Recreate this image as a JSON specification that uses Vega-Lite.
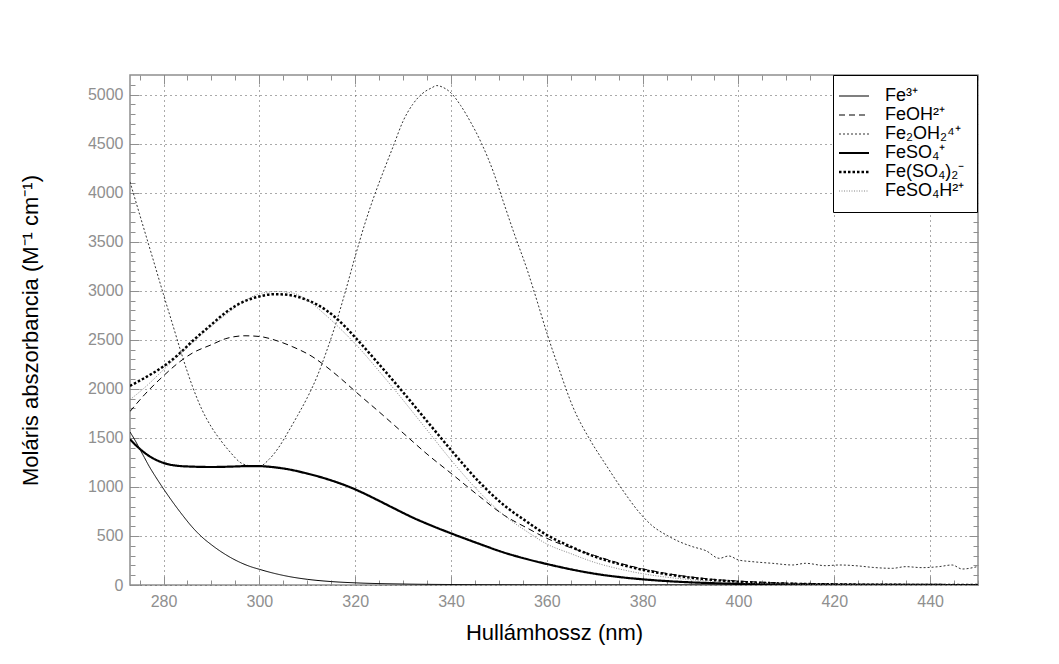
{
  "$schema": "https://vega.github.io/schema/vega-lite/v6.json",
  "width": 848,
  "height": 510,
  "autosize": {"type": "none"},
  "padding": {"left": 130, "top": 75, "right": 81, "bottom": 79},
  "background": "#ffffff",
  "config": {
    "view": {"stroke": "#8f8f8f", "strokeWidth": 1.5},
    "font": "Liberation Sans"
  },
  "data": {"name": "spectra"},
  "datasets": {
    "spectra": [
      {"s":"Fe³⁺","x":273,"y":1560},{"s":"Fe³⁺","x":274,"y":1480},{"s":"Fe³⁺","x":275,"y":1390},{"s":"Fe³⁺","x":276,"y":1300},{"s":"Fe³⁺","x":277,"y":1210},{"s":"Fe³⁺","x":278,"y":1130},{"s":"Fe³⁺","x":280,"y":980},{"s":"Fe³⁺","x":282,"y":840},{"s":"Fe³⁺","x":284,"y":710},{"s":"Fe³⁺","x":286,"y":590},{"s":"Fe³⁺","x":288,"y":490},{"s":"Fe³⁺","x":290,"y":410},{"s":"Fe³⁺","x":292,"y":340},{"s":"Fe³⁺","x":294,"y":280},{"s":"Fe³⁺","x":296,"y":230},{"s":"Fe³⁺","x":298,"y":190},{"s":"Fe³⁺","x":300,"y":160},{"s":"Fe³⁺","x":303,"y":120},{"s":"Fe³⁺","x":306,"y":88},{"s":"Fe³⁺","x":310,"y":58},{"s":"Fe³⁺","x":315,"y":35},{"s":"Fe³⁺","x":320,"y":22},{"s":"Fe³⁺","x":330,"y":10},{"s":"Fe³⁺","x":340,"y":5},{"s":"Fe³⁺","x":360,"y":2},{"s":"Fe³⁺","x":380,"y":1},{"s":"Fe³⁺","x":450,"y":0},

      {"s":"FeOH²⁺","x":273,"y":1769},{"s":"FeOH²⁺","x":276,"y":1939},{"s":"FeOH²⁺","x":280,"y":2133},{"s":"FeOH²⁺","x":283,"y":2262},{"s":"FeOH²⁺","x":286,"y":2364},{"s":"FeOH²⁺","x":290,"y":2450},{"s":"FeOH²⁺","x":293,"y":2512},{"s":"FeOH²⁺","x":297,"y":2541},{"s":"FeOH²⁺","x":300,"y":2534},{"s":"FeOH²⁺","x":304,"y":2485},{"s":"FeOH²⁺","x":307,"y":2428},{"s":"FeOH²⁺","x":311,"y":2330},{"s":"FeOH²⁺","x":314,"y":2225},{"s":"FeOH²⁺","x":317,"y":2105},{"s":"FeOH²⁺","x":320,"y":1975},{"s":"FeOH²⁺","x":325,"y":1765},{"s":"FeOH²⁺","x":330,"y":1550},{"s":"FeOH²⁺","x":335,"y":1335},{"s":"FeOH²⁺","x":340,"y":1139},{"s":"FeOH²⁺","x":346,"y":901},{"s":"FeOH²⁺","x":351,"y":714},{"s":"FeOH²⁺","x":356,"y":578},{"s":"FeOH²⁺","x":360,"y":476},{"s":"FeOH²⁺","x":365,"y":380},{"s":"FeOH²⁺","x":370,"y":300},{"s":"FeOH²⁺","x":375,"y":225},{"s":"FeOH²⁺","x":380,"y":165},{"s":"FeOH²⁺","x":385,"y":118},{"s":"FeOH²⁺","x":390,"y":82},{"s":"FeOH²⁺","x":395,"y":57},{"s":"FeOH²⁺","x":400,"y":40},{"s":"FeOH²⁺","x":405,"y":28},{"s":"FeOH²⁺","x":410,"y":20},{"s":"FeOH²⁺","x":420,"y":10},{"s":"FeOH²⁺","x":430,"y":5},{"s":"FeOH²⁺","x":450,"y":2},

      {"s":"Fe₂OH₂⁴⁺","x":273,"y":4110},{"s":"Fe₂OH₂⁴⁺","x":275,"y":3780},{"s":"Fe₂OH₂⁴⁺","x":278,"y":3290},{"s":"Fe₂OH₂⁴⁺","x":280,"y":2960},{"s":"Fe₂OH₂⁴⁺","x":282,"y":2640},{"s":"Fe₂OH₂⁴⁺","x":284,"y":2320},{"s":"Fe₂OH₂⁴⁺","x":286,"y":2030},{"s":"Fe₂OH₂⁴⁺","x":288,"y":1790},{"s":"Fe₂OH₂⁴⁺","x":290,"y":1610},{"s":"Fe₂OH₂⁴⁺","x":292,"y":1470},{"s":"Fe₂OH₂⁴⁺","x":294,"y":1350},{"s":"Fe₂OH₂⁴⁺","x":296,"y":1250},{"s":"Fe₂OH₂⁴⁺","x":297.5,"y":1220},{"s":"Fe₂OH₂⁴⁺","x":300,"y":1210},{"s":"Fe₂OH₂⁴⁺","x":302,"y":1280},{"s":"Fe₂OH₂⁴⁺","x":304,"y":1400},{"s":"Fe₂OH₂⁴⁺","x":306,"y":1560},{"s":"Fe₂OH₂⁴⁺","x":308,"y":1730},{"s":"Fe₂OH₂⁴⁺","x":310,"y":1910},{"s":"Fe₂OH₂⁴⁺","x":312,"y":2120},{"s":"Fe₂OH₂⁴⁺","x":314,"y":2380},{"s":"Fe₂OH₂⁴⁺","x":316,"y":2670},{"s":"Fe₂OH₂⁴⁺","x":318,"y":3000},{"s":"Fe₂OH₂⁴⁺","x":320,"y":3350},{"s":"Fe₂OH₂⁴⁺","x":322,"y":3680},{"s":"Fe₂OH₂⁴⁺","x":324,"y":3970},{"s":"Fe₂OH₂⁴⁺","x":326,"y":4230},{"s":"Fe₂OH₂⁴⁺","x":328,"y":4480},{"s":"Fe₂OH₂⁴⁺","x":330,"y":4730},{"s":"Fe₂OH₂⁴⁺","x":332,"y":4900},{"s":"Fe₂OH₂⁴⁺","x":334,"y":5010},{"s":"Fe₂OH₂⁴⁺","x":336,"y":5070},{"s":"Fe₂OH₂⁴⁺","x":337,"y":5092},{"s":"Fe₂OH₂⁴⁺","x":338.5,"y":5070},{"s":"Fe₂OH₂⁴⁺","x":340,"y":5017},{"s":"Fe₂OH₂⁴⁺","x":342,"y":4890},{"s":"Fe₂OH₂⁴⁺","x":344,"y":4728},{"s":"Fe₂OH₂⁴⁺","x":346.4,"y":4500},{"s":"Fe₂OH₂⁴⁺","x":348.8,"y":4218},{"s":"Fe₂OH₂⁴⁺","x":350.9,"y":3912},{"s":"Fe₂OH₂⁴⁺","x":353,"y":3610},{"s":"Fe₂OH₂⁴⁺","x":356,"y":3200},{"s":"Fe₂OH₂⁴⁺","x":358,"y":2890},{"s":"Fe₂OH₂⁴⁺","x":360,"y":2570},{"s":"Fe₂OH₂⁴⁺","x":362.6,"y":2196},{"s":"Fe₂OH₂⁴⁺","x":365.4,"y":1821},{"s":"Fe₂OH₂⁴⁺","x":368.9,"y":1490},{"s":"Fe₂OH₂⁴⁺","x":372.4,"y":1220},{"s":"Fe₂OH₂⁴⁺","x":375.8,"y":970},{"s":"Fe₂OH₂⁴⁺","x":379.3,"y":740},{"s":"Fe₂OH₂⁴⁺","x":382.1,"y":600},{"s":"Fe₂OH₂⁴⁺","x":384.9,"y":511},{"s":"Fe₂OH₂⁴⁺","x":387.6,"y":443},{"s":"Fe₂OH₂⁴⁺","x":390.4,"y":391},{"s":"Fe₂OH₂⁴⁺","x":393.2,"y":350},{"s":"Fe₂OH₂⁴⁺","x":396,"y":272},{"s":"Fe₂OH₂⁴⁺","x":398,"y":296},{"s":"Fe₂OH₂⁴⁺","x":400,"y":255},{"s":"Fe₂OH₂⁴⁺","x":402.9,"y":238},{"s":"Fe₂OH₂⁴⁺","x":407.1,"y":221},{"s":"Fe₂OH₂⁴⁺","x":411.3,"y":204},{"s":"Fe₂OH₂⁴⁺","x":414,"y":221},{"s":"Fe₂OH₂⁴⁺","x":418.2,"y":197},{"s":"Fe₂OH₂⁴⁺","x":421,"y":204},{"s":"Fe₂OH₂⁴⁺","x":425.1,"y":194},{"s":"Fe₂OH₂⁴⁺","x":427.9,"y":180},{"s":"Fe₂OH₂⁴⁺","x":432.1,"y":170},{"s":"Fe₂OH₂⁴⁺","x":434.9,"y":187},{"s":"Fe₂OH₂⁴⁺","x":438.3,"y":177},{"s":"Fe₂OH₂⁴⁺","x":441.8,"y":187},{"s":"Fe₂OH₂⁴⁺","x":444.6,"y":204},{"s":"Fe₂OH₂⁴⁺","x":446.7,"y":163},{"s":"Fe₂OH₂⁴⁺","x":449.8,"y":187},

      {"s":"FeSO₄⁺","x":273,"y":1485},{"s":"FeSO₄⁺","x":275,"y":1390},{"s":"FeSO₄⁺","x":277,"y":1315},{"s":"FeSO₄⁺","x":280,"y":1245},{"s":"FeSO₄⁺","x":283,"y":1215},{"s":"FeSO₄⁺","x":286,"y":1207},{"s":"FeSO₄⁺","x":290,"y":1203},{"s":"FeSO₄⁺","x":294,"y":1207},{"s":"FeSO₄⁺","x":298,"y":1213},{"s":"FeSO₄⁺","x":300,"y":1212},{"s":"FeSO₄⁺","x":302,"y":1206},{"s":"FeSO₄⁺","x":304,"y":1195},{"s":"FeSO₄⁺","x":306,"y":1180},{"s":"FeSO₄⁺","x":308,"y":1160},{"s":"FeSO₄⁺","x":310,"y":1136},{"s":"FeSO₄⁺","x":313,"y":1097},{"s":"FeSO₄⁺","x":316,"y":1050},{"s":"FeSO₄⁺","x":318,"y":1015},{"s":"FeSO₄⁺","x":320,"y":975},{"s":"FeSO₄⁺","x":322,"y":930},{"s":"FeSO₄⁺","x":325,"y":858},{"s":"FeSO₄⁺","x":328,"y":784},{"s":"FeSO₄⁺","x":332,"y":688},{"s":"FeSO₄⁺","x":336,"y":604},{"s":"FeSO₄⁺","x":340,"y":527},{"s":"FeSO₄⁺","x":346,"y":418},{"s":"FeSO₄⁺","x":351,"y":332},{"s":"FeSO₄⁺","x":356,"y":262},{"s":"FeSO₄⁺","x":360,"y":214},{"s":"FeSO₄⁺","x":365,"y":160},{"s":"FeSO₄⁺","x":370,"y":115},{"s":"FeSO₄⁺","x":375,"y":82},{"s":"FeSO₄⁺","x":380,"y":58},{"s":"FeSO₄⁺","x":385,"y":40},{"s":"FeSO₄⁺","x":390,"y":27},{"s":"FeSO₄⁺","x":395,"y":18},{"s":"FeSO₄⁺","x":400,"y":11},{"s":"FeSO₄⁺","x":410,"y":5},{"s":"FeSO₄⁺","x":420,"y":2},{"s":"FeSO₄⁺","x":450,"y":0},

      {"s":"Fe(SO₄)₂⁻","x":273,"y":2030},{"s":"Fe(SO₄)₂⁻","x":276,"y":2110},{"s":"Fe(SO₄)₂⁻","x":280,"y":2230},{"s":"Fe(SO₄)₂⁻","x":283,"y":2345},{"s":"Fe(SO₄)₂⁻","x":286,"y":2485},{"s":"Fe(SO₄)₂⁻","x":290,"y":2655},{"s":"Fe(SO₄)₂⁻","x":293,"y":2780},{"s":"Fe(SO₄)₂⁻","x":297,"y":2895},{"s":"Fe(SO₄)₂⁻","x":300,"y":2942},{"s":"Fe(SO₄)₂⁻","x":303,"y":2965},{"s":"Fe(SO₄)₂⁻","x":305,"y":2962},{"s":"Fe(SO₄)₂⁻","x":307,"y":2950},{"s":"Fe(SO₄)₂⁻","x":310,"y":2905},{"s":"Fe(SO₄)₂⁻","x":314,"y":2800},{"s":"Fe(SO₄)₂⁻","x":318,"y":2630},{"s":"Fe(SO₄)₂⁻","x":320,"y":2525},{"s":"Fe(SO₄)₂⁻","x":325,"y":2250},{"s":"Fe(SO₄)₂⁻","x":330,"y":1965},{"s":"Fe(SO₄)₂⁻","x":335,"y":1670},{"s":"Fe(SO₄)₂⁻","x":340,"y":1377},{"s":"Fe(SO₄)₂⁻","x":346,"y":1045},{"s":"Fe(SO₄)₂⁻","x":351,"y":816},{"s":"Fe(SO₄)₂⁻","x":356,"y":640},{"s":"Fe(SO₄)₂⁻","x":360,"y":510},{"s":"Fe(SO₄)₂⁻","x":365,"y":391},{"s":"Fe(SO₄)₂⁻","x":370,"y":290},{"s":"Fe(SO₄)₂⁻","x":375,"y":215},{"s":"Fe(SO₄)₂⁻","x":380,"y":155},{"s":"Fe(SO₄)₂⁻","x":385,"y":110},{"s":"Fe(SO₄)₂⁻","x":390,"y":75},{"s":"Fe(SO₄)₂⁻","x":395,"y":50},{"s":"Fe(SO₄)₂⁻","x":400,"y":33},{"s":"Fe(SO₄)₂⁻","x":405,"y":22},{"s":"Fe(SO₄)₂⁻","x":410,"y":14},{"s":"Fe(SO₄)₂⁻","x":420,"y":6},{"s":"Fe(SO₄)₂⁻","x":430,"y":2},{"s":"Fe(SO₄)₂⁻","x":450,"y":0},

      {"s":"FeSO₄H²⁺","x":273,"y":1890},{"s":"FeSO₄H²⁺","x":276,"y":2010},{"s":"FeSO₄H²⁺","x":280,"y":2195},{"s":"FeSO₄H²⁺","x":283,"y":2335},{"s":"FeSO₄H²⁺","x":286.4,"y":2485},{"s":"FeSO₄H²⁺","x":290,"y":2640},{"s":"FeSO₄H²⁺","x":293.4,"y":2772},{"s":"FeSO₄H²⁺","x":297,"y":2900},{"s":"FeSO₄H²⁺","x":300,"y":2969},{"s":"FeSO₄H²⁺","x":303.7,"y":2993},{"s":"FeSO₄H²⁺","x":307,"y":2976},{"s":"FeSO₄H²⁺","x":310,"y":2905},{"s":"FeSO₄H²⁺","x":314,"y":2745},{"s":"FeSO₄H²⁺","x":318,"y":2560},{"s":"FeSO₄H²⁺","x":320,"y":2460},{"s":"FeSO₄H²⁺","x":325,"y":2180},{"s":"FeSO₄H²⁺","x":330,"y":1885},{"s":"FeSO₄H²⁺","x":335,"y":1580},{"s":"FeSO₄H²⁺","x":340,"y":1275},{"s":"FeSO₄H²⁺","x":345,"y":995},{"s":"FeSO₄H²⁺","x":351,"y":714},{"s":"FeSO₄H²⁺","x":356,"y":540},{"s":"FeSO₄H²⁺","x":360,"y":418},{"s":"FeSO₄H²⁺","x":365,"y":320},{"s":"FeSO₄H²⁺","x":370,"y":230},{"s":"FeSO₄H²⁺","x":375,"y":165},{"s":"FeSO₄H²⁺","x":380,"y":115},{"s":"FeSO₄H²⁺","x":385,"y":80},{"s":"FeSO₄H²⁺","x":390,"y":55},{"s":"FeSO₄H²⁺","x":395,"y":36},{"s":"FeSO₄H²⁺","x":400,"y":24},{"s":"FeSO₄H²⁺","x":410,"y":10},{"s":"FeSO₄H²⁺","x":420,"y":4},{"s":"FeSO₄H²⁺","x":450,"y":0}
    ]
  },
  "resolve": {"axis": {"x": "independent", "y": "independent"}},
  "layer": [
    {
      "mark": {"type": "line", "interpolate": "monotone", "clip": true},
      "encoding": {
        "x": {
          "field": "x", "type": "quantitative",
          "scale": {"domain": [273, 450], "nice": false, "zero": false},
          "axis": {
            "orient": "bottom",
            "values": [280,300,320,340,360,380,400,420,440],
            "title": "Hullámhossz (nm)",
            "titleFont": "Liberation Sans", "titleFontSize": 22, "titleFontWeight": "normal", "titleColor": "#000000", "titlePadding": 13,
            "labelFont": "Liberation Sans", "labelFontSize": 16, "labelColor": "#8f8f8f", "labelOverlap": false, "labelFlush": false, "labelPadding": 8,
            "domain": false, "ticks": false,
            "grid": true, "gridColor": "#555555", "gridDash": [1, 4], "gridWidth": 1
          }
        },
        "y": {
          "field": "y", "type": "quantitative",
          "scale": {"domain": [0, 5200], "nice": false},
          "axis": {
            "orient": "left",
            "values": [0,500,1000,1500,2000,2500,3000,3500,4000,4500,5000],
            "title": "Moláris abszorbancia (M⁻¹ cm⁻¹)",
            "titleFont": "Liberation Sans", "titleFontSize": 22, "titleFontWeight": "normal", "titleColor": "#000000", "titlePadding": 45,
            "format": "d",
            "labelFont": "Liberation Sans", "labelFontSize": 16, "labelColor": "#8f8f8f", "labelOverlap": false, "labelFlush": false, "labelPadding": 7,
            "domain": false, "ticks": false,
            "grid": true, "gridColor": "#555555", "gridDash": [1, 4], "gridWidth": 1
          }
        },
        "color": {
          "field": "s", "type": "nominal",
          "scale": {"domain": ["Fe³⁺","FeOH²⁺","Fe₂OH₂⁴⁺","FeSO₄⁺","Fe(SO₄)₂⁻","FeSO₄H²⁺"], "range": ["#000000","#000000","#333333","#000000","#000000","#666666"]},
          "legend": {"orient": "none", "legendX": 703, "legendY": 0, "title": null, "symbolType": "M-1.5,0H1.5", "symbolSize": 400, "symbolOpacity": 1, "labelFont": "Liberation Sans", "labelFontSize": 18, "labelColor": "#000000", "strokeColor": "#000000", "fillColor": "#ffffff", "padding": 12, "rowPadding": 1, "labelOffset": 22,
            "encode": {"symbols": {"update": {"opacity": {"value": 1}, "strokeWidth": {"signal": "datum.value === 'FeSO₄⁺' ? 2.2 : datum.value === 'Fe(SO₄)₂⁻' ? 2.5 : datum.value === 'FeSO₄H²⁺' ? 0.8 : 1.2"}}}}}
        },
        "strokeDash": {
          "field": "s", "type": "nominal",
          "scale": {"domain": ["Fe³⁺","FeOH²⁺","Fe₂OH₂⁴⁺","FeSO₄⁺","Fe(SO₄)₂⁻","FeSO₄H²⁺"], "range": [[1,0],[6,4],[2,2],[1,0],[2.5,2],[1,1.5]]},
          "legend": {"orient": "none", "legendX": 703, "legendY": 0, "title": null, "symbolType": "M-1.5,0H1.5", "symbolSize": 400, "symbolOpacity": 1, "labelFont": "Liberation Sans", "labelFontSize": 18, "labelColor": "#000000", "strokeColor": "#000000", "fillColor": "#ffffff", "padding": 12, "rowPadding": 1, "labelOffset": 22,
            "encode": {"symbols": {"update": {"opacity": {"value": 1}, "strokeWidth": {"signal": "datum.value === 'FeSO₄⁺' ? 2.2 : datum.value === 'Fe(SO₄)₂⁻' ? 2.5 : datum.value === 'FeSO₄H²⁺' ? 0.8 : 1.2"}}}}}
        },
        "strokeWidth": {
          "condition": [
            {"test": "datum.s === 'FeSO₄⁺'", "value": 2.2},
            {"test": "datum.s === 'Fe(SO₄)₂⁻'", "value": 2.5},
            {"test": "datum.s === 'FeSO₄H²⁺'", "value": 0.8}
          ],
          "value": 1
        }
      }
    },
    {
      "mark": {"type": "line", "strokeOpacity": 0},
      "encoding": {
        "x": {"field": "x", "type": "quantitative", "scale": {"domain": [273, 450], "nice": false, "zero": false},
          "axis": {"orient": "bottom", "title": null, "labels": false, "grid": false, "domain": false, "values": [280,300,320,340,360,380,400,420,440], "tickColor": "#8f8f8f", "tickSize": -9}},
        "y": {"field": "y", "type": "quantitative", "scale": {"domain": [0, 5200], "nice": false},
          "axis": {"orient": "left", "title": null, "labels": false, "grid": false, "domain": false, "values": [0,500,1000,1500,2000,2500,3000,3500,4000,4500,5000], "tickColor": "#8f8f8f", "tickSize": -9}},
        "detail": {"field": "s", "type": "nominal"}
      }
    },
    {
      "mark": {"type": "line", "strokeOpacity": 0},
      "encoding": {
        "x": {"field": "x", "type": "quantitative", "scale": {"domain": [273, 450], "nice": false, "zero": false},
          "axis": {"orient": "top", "title": null, "labels": false, "grid": false, "domain": false, "values": [280,300,320,340,360,380,400,420,440], "tickColor": "#8f8f8f", "tickSize": -9}},
        "y": {"field": "y", "type": "quantitative", "scale": {"domain": [0, 5200], "nice": false},
          "axis": {"orient": "right", "title": null, "labels": false, "grid": false, "domain": false, "values": [0,500,1000,1500,2000,2500,3000,3500,4000,4500,5000], "tickColor": "#8f8f8f", "tickSize": -9}},
        "detail": {"field": "s", "type": "nominal"}
      }
    },
    {
      "mark": {"type": "line", "strokeOpacity": 0},
      "encoding": {
        "x": {"field": "x", "type": "quantitative", "scale": {"domain": [273, 450], "nice": false, "zero": false},
          "axis": {"orient": "bottom", "title": null, "labels": false, "grid": false, "domain": false, "values": [275,285,290,295,305,310,315,325,330,335,345,350,355,365,370,375,385,390,395,405,410,415,425,430,435,445,450], "tickColor": "#8f8f8f", "tickSize": -5}},
        "y": {"field": "y", "type": "quantitative", "scale": {"domain": [0, 5200], "nice": false},
          "axis": {"orient": "left", "title": null, "labels": false, "grid": false, "domain": false, "values": [100,200,300,400,600,700,800,900,1100,1200,1300,1400,1600,1700,1800,1900,2100,2200,2300,2400,2600,2700,2800,2900,3100,3200,3300,3400,3600,3700,3800,3900,4100,4200,4300,4400,4600,4700,4800,4900,5100], "tickColor": "#8f8f8f", "tickSize": -5}},
        "detail": {"field": "s", "type": "nominal"}
      }
    },
    {
      "mark": {"type": "line", "strokeOpacity": 0},
      "encoding": {
        "x": {"field": "x", "type": "quantitative", "scale": {"domain": [273, 450], "nice": false, "zero": false},
          "axis": {"orient": "top", "title": null, "labels": false, "grid": false, "domain": false, "values": [275,285,290,295,305,310,315,325,330,335,345,350,355,365,370,375,385,390,395,405,410,415,425,430,435,445,450], "tickColor": "#8f8f8f", "tickSize": -5}},
        "y": {"field": "y", "type": "quantitative", "scale": {"domain": [0, 5200], "nice": false},
          "axis": {"orient": "right", "title": null, "labels": false, "grid": false, "domain": false, "values": [100,200,300,400,600,700,800,900,1100,1200,1300,1400,1600,1700,1800,1900,2100,2200,2300,2400,2600,2700,2800,2900,3100,3200,3300,3400,3600,3700,3800,3900,4100,4200,4300,4400,4600,4700,4800,4900,5100], "tickColor": "#8f8f8f", "tickSize": -5}},
        "detail": {"field": "s", "type": "nominal"}
      }
    }
  ]
}
